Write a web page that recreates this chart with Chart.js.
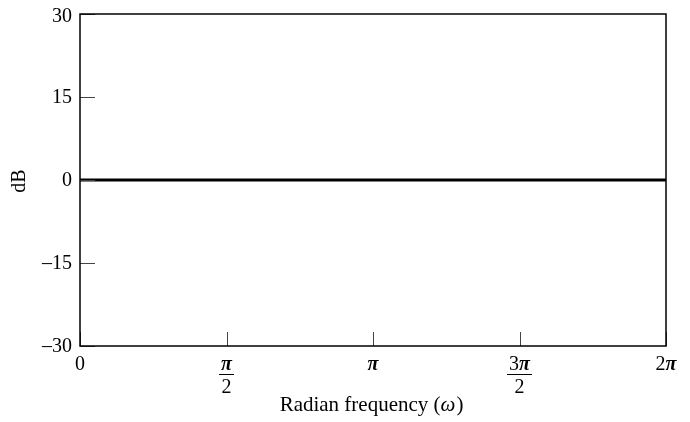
<!DOCTYPE html>
<html>
<head>
<meta charset="utf-8">
<script src="https://cdn.jsdelivr.net/npm/chart.js@4/dist/chart.umd.min.js"></script>
<style>
  html, body { margin: 0; padding: 0; background: #fff; }
  #wrap { width: 690px; height: 422px; }
</style>
</head>
<body>
<div id="wrap"><canvas id="grafico" width="690" height="422"></canvas></div>
<script>
// datos
const omega = [0, 6.2832];        // rad
const magnitudDB = [0, 0];         // dB
const yTicks = [30, 15, 0, -15, -30];
const xTicks = [0, 1.5708, 3.1416, 4.7124, 6.2832];
const xEtiquetas = [["0"], ["\u03C0", "2"], ["\u03C0"], ["3\u03C0", "2"], ["2\u03C0"]];

const SERIF = '"Liberation Serif", "DejaVu Serif", serif';

// escribe texto mezclando cifras rectas y pi en cursiva
function textoPi(ctx, txt, cx, y) {
  const partes = txt.split(/(\u03C0)/).filter((p) => p);
  const fuentes = partes.map((p) => (p === "\u03C0" ? "italic bold 20px " : "20px ") + SERIF);
  let anchos = partes.map((p, i) => {
    ctx.font = fuentes[i];
    return ctx.measureText(p).width;
  });
  const total = anchos.reduce((s, w) => s + w, 0);
  let x = cx - total / 2;
  ctx.textAlign = "left";
  partes.forEach((p, i) => {
    ctx.font = fuentes[i];
    ctx.fillText(p, x, y);
    x += anchos[i];
  });
  ctx.textAlign = "center";
  return total;
}

// dibuja marco, marcas interiores y textos con las escalas del grafico
const ejesPlugin = {
  id: "ejes",
  afterDraw(chart) {
    const ctx = chart.ctx;
    const a = chart.chartArea;
    const sx = chart.scales.x;
    const sy = chart.scales.y;
    ctx.save();

    // marcas interiores
    ctx.strokeStyle = "#444";
    ctx.lineWidth = 1;
    xTicks.forEach((v) => {
      const px = Math.round(sx.getPixelForValue(v)) + 0.5;
      ctx.beginPath();
      ctx.moveTo(px, a.bottom);
      ctx.lineTo(px, a.bottom - 14);
      ctx.stroke();
    });
    yTicks.forEach((v) => {
      const py = Math.round(sy.getPixelForValue(v)) + 0.5;
      ctx.beginPath();
      ctx.moveTo(a.left, py);
      ctx.lineTo(a.left + 15, py);
      ctx.stroke();
    });

    // marco
    ctx.strokeStyle = "#000";
    ctx.lineWidth = 1.5;
    ctx.strokeRect(a.left, a.top, a.right - a.left, a.bottom - a.top);

    // etiquetas eje y
    ctx.fillStyle = "#000";
    ctx.font = "20px " + SERIF;
    ctx.textAlign = "right";
    ctx.textBaseline = "middle";
    yTicks.forEach((v) => {
      const txt = v < 0 ? "\u2013" + Math.abs(v) : String(v);
      let py = sy.getPixelForValue(v) + 1;
      if (v === 30) py += 2;
      ctx.fillText(txt, 72, py);
    });

    // etiquetas eje x
    ctx.textAlign = "center";
    xEtiquetas.forEach((lab, i) => {
      const px = sx.getPixelForValue(xTicks[i]);
      if (lab.length === 1) {
        textoPi(ctx, lab[0], px, 365);
      } else {
        const w = textoPi(ctx, lab[0], px, 365) + 4;
        ctx.lineWidth = 1;
        ctx.beginPath();
        ctx.moveTo(px - w / 2, 374.5);
        ctx.lineTo(px + w / 2, 374.5);
        ctx.stroke();
        ctx.font = "20px " + SERIF;
        ctx.fillText(lab[1], px, 388);
      }
    });

    // titulo eje x
    ctx.textBaseline = "alphabetic";
    const t1 = "Radian frequency (";
    const t2 = "\u03C9";
    const t3 = ")";
    ctx.font = "21px " + SERIF;
    const w1 = ctx.measureText(t1).width;
    const w3 = ctx.measureText(t3).width;
    ctx.font = "italic 21px " + SERIF;
    const w2 = ctx.measureText(t2).width;
    let x0 = 371 - (w1 + w2 + w3) / 2;
    ctx.textAlign = "left";
    ctx.font = "21px " + SERIF;
    ctx.fillText(t1, x0, 411);
    ctx.font = "italic 21px " + SERIF;
    ctx.fillText(t2, x0 + w1, 411);
    ctx.font = "21px " + SERIF;
    ctx.fillText(t3, x0 + w1 + w2 + 1, 411);

    // titulo eje y
    ctx.textBaseline = "middle";
    ctx.font = "20px " + SERIF;
    ctx.translate(20, 181);
    ctx.rotate(-Math.PI / 2);
    ctx.textAlign = "center";
    ctx.fillText("dB", 0, 0);
    ctx.restore();
  },
};

new Chart(document.getElementById("grafico"), {
  type: "line",
  data: {
    datasets: [
      {
        data: omega.map((w, i) => ({ x: w, y: magnitudDB[i] })),
        borderColor: "#000",
        borderWidth: 3,
        pointRadius: 0,
        fill: false,
      },
    ],
  },
  options: {
    responsive: false,
    animation: false,
    layout: { padding: { left: 72, top: 14, right: 24, bottom: 68 } },
    plugins: { legend: { display: false }, tooltip: { enabled: false } },
    scales: {
      x: {
        type: "linear",
        min: 0,
        max: 6.2832,
        grid: { display: false },
        border: { display: false },
        ticks: { display: false },
      },
      y: {
        min: -30,
        max: 30,
        grid: { display: false },
        border: { display: false },
        ticks: { display: false },
      },
    },
  },
  plugins: [ejesPlugin],
});
</script>
</body>
</html>
